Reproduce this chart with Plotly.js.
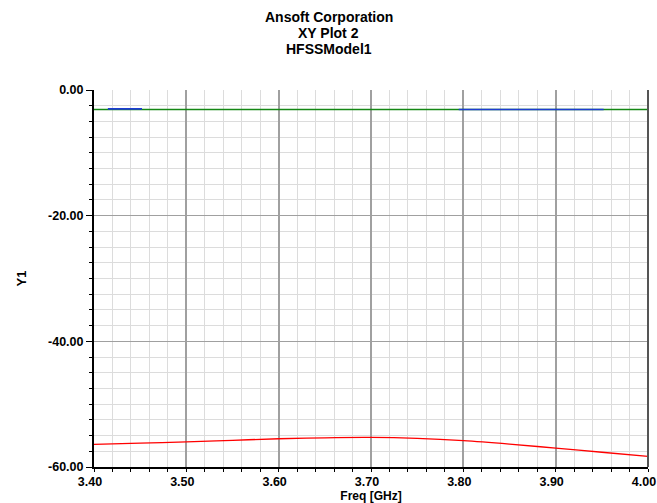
<!DOCTYPE html>
<html>
<head>
<meta charset="utf-8">
<script src="https://cdn.plot.ly/plotly-3.0.1.min.js"></script>
<style>html,body{margin:0;padding:0;background:#fff;}#chart{width:657px;height:503px;}</style>
</head>
<body>
<div id="chart"></div>
<script>
// Frequencies (GHz)
var freq = [3.40, 3.45, 3.50, 3.55, 3.60, 3.65, 3.70, 3.75, 3.80, 3.85, 3.90, 3.95, 4.00];
// Red curve (dB)
var redVals = [-56.4, -56.2, -56.0, -55.75, -55.5, -55.35, -55.3, -55.45, -55.8, -56.35, -57.0, -57.65, -58.3];
// Green curve (dB)
var greenVals = [-3.1, -3.1, -3.1, -3.1, -3.1, -3.1, -3.1, -3.1, -3.1, -3.1, -3.1, -3.1, -3.1];
// Blue curve, visible segments only (dB)
var blueFreq = [3.415, 3.452, null, 3.795, 3.85, 3.90, 3.952];
var blueVals = [-3.0, -3.0, null, -3.1, -3.1, -3.1, -3.1];
// Tick labels
var xTicks = [3.40, 3.50, 3.60, 3.70, 3.80, 3.90, 4.00];
var yTicks = [0, -20, -40, -60];
var titleLines = ['Ansoft Corporation', 'XY Plot 2', 'HFSSModel1'];

var FONT = 'Liberation Sans, Arial, sans-serif';
var tickFont = {family: FONT, size: 12.5, color: '#000', weight: 'bold'};

var traces = [
  {x: freq, y: greenVals, mode: 'lines', line: {color: 'rgb(20,135,20)', width: 1.5}, showlegend: false, hoverinfo: 'skip'},
  {x: blueFreq, y: blueVals, mode: 'lines', line: {color: 'rgb(30,60,210)', width: 1.6}, showlegend: false, connectgaps: false, hoverinfo: 'skip'},
  {x: freq, y: redVals, mode: 'lines', line: {color: 'rgb(255,0,0)', width: 1.3, shape: 'spline'}, showlegend: false, hoverinfo: 'skip'}
];

// Title lines as annotations centred on the page
var annotations = titleLines.map(function(t, i){
  return {
    text: '<b>' + t + '</b>', showarrow: false,
    xref: 'paper', x: (328.5 - 94) / 554, xanchor: 'center',
    yref: 'paper', y: 1 + (90 - (17 + 16 * i)) / 377, yanchor: 'middle',
    font: {family: FONT, size: 14, color: '#000'}
  };
});

var layout = {
  width: 657, height: 503,
  margin: {l: 94, r: 9, t: 90, b: 36, pad: 0},
  paper_bgcolor: '#fff', plot_bgcolor: '#fff',
  annotations: annotations,
  xaxis: {
    range: [3.40, 4.00],
    tickvals: xTicks,
    ticktext: xTicks.map(function(v){return v.toFixed(2);}),
    tickfont: tickFont,
    ticklabelshift: -4,
    ticklabelstandoff: -1,
    ticklabeloverflow: 'allow',
    ticks: 'outside', ticklen: 3, tickcolor: '#000', tickwidth: 1,
    showline: true, linecolor: '#000', linewidth: 2,
    showgrid: true, gridcolor: '#a0a0a0', gridwidth: 2,
    zeroline: false,
    minor: {dtick: 0.02, tick0: 3.40, ticks: 'outside', ticklen: 3, tickcolor: '#000', showgrid: true, gridcolor: '#dcdcdc', gridwidth: 1},
    title: {text: '<b>Freq [GHz]</b>', font: {family: FONT, size: 12, color: '#000'}, standoff: 3}
  },
  yaxis: {
    range: [-60, 0],
    tickvals: yTicks,
    ticktext: yTicks.map(function(v){return v.toFixed(2);}),
    tickfont: tickFont,
    ticks: 'outside', ticklen: 6, tickcolor: '#000', tickwidth: 1,
    showline: true, linecolor: '#000', linewidth: 2,
    showgrid: true, gridcolor: '#a0a0a0', gridwidth: 1,
    zeroline: false,
    minor: {dtick: 2.5, tick0: 0, ticks: 'outside', ticklen: 3, tickcolor: '#000', showgrid: true, gridcolor: '#dcdcdc', gridwidth: 1},
    title: {text: '<b>Y1</b>', font: {family: FONT, size: 13, color: '#000'}, standoff: 18}
  },
  shapes: [
    {type: 'line', xref: 'paper', yref: 'paper', x0: 1, x1: 1, y0: 0, y1: 1, line: {color: '#555', width: 2}}
  ]
};

Plotly.newPlot('chart', traces, layout, {staticPlot: true, displayModeBar: false});
</script>
</body>
</html>
